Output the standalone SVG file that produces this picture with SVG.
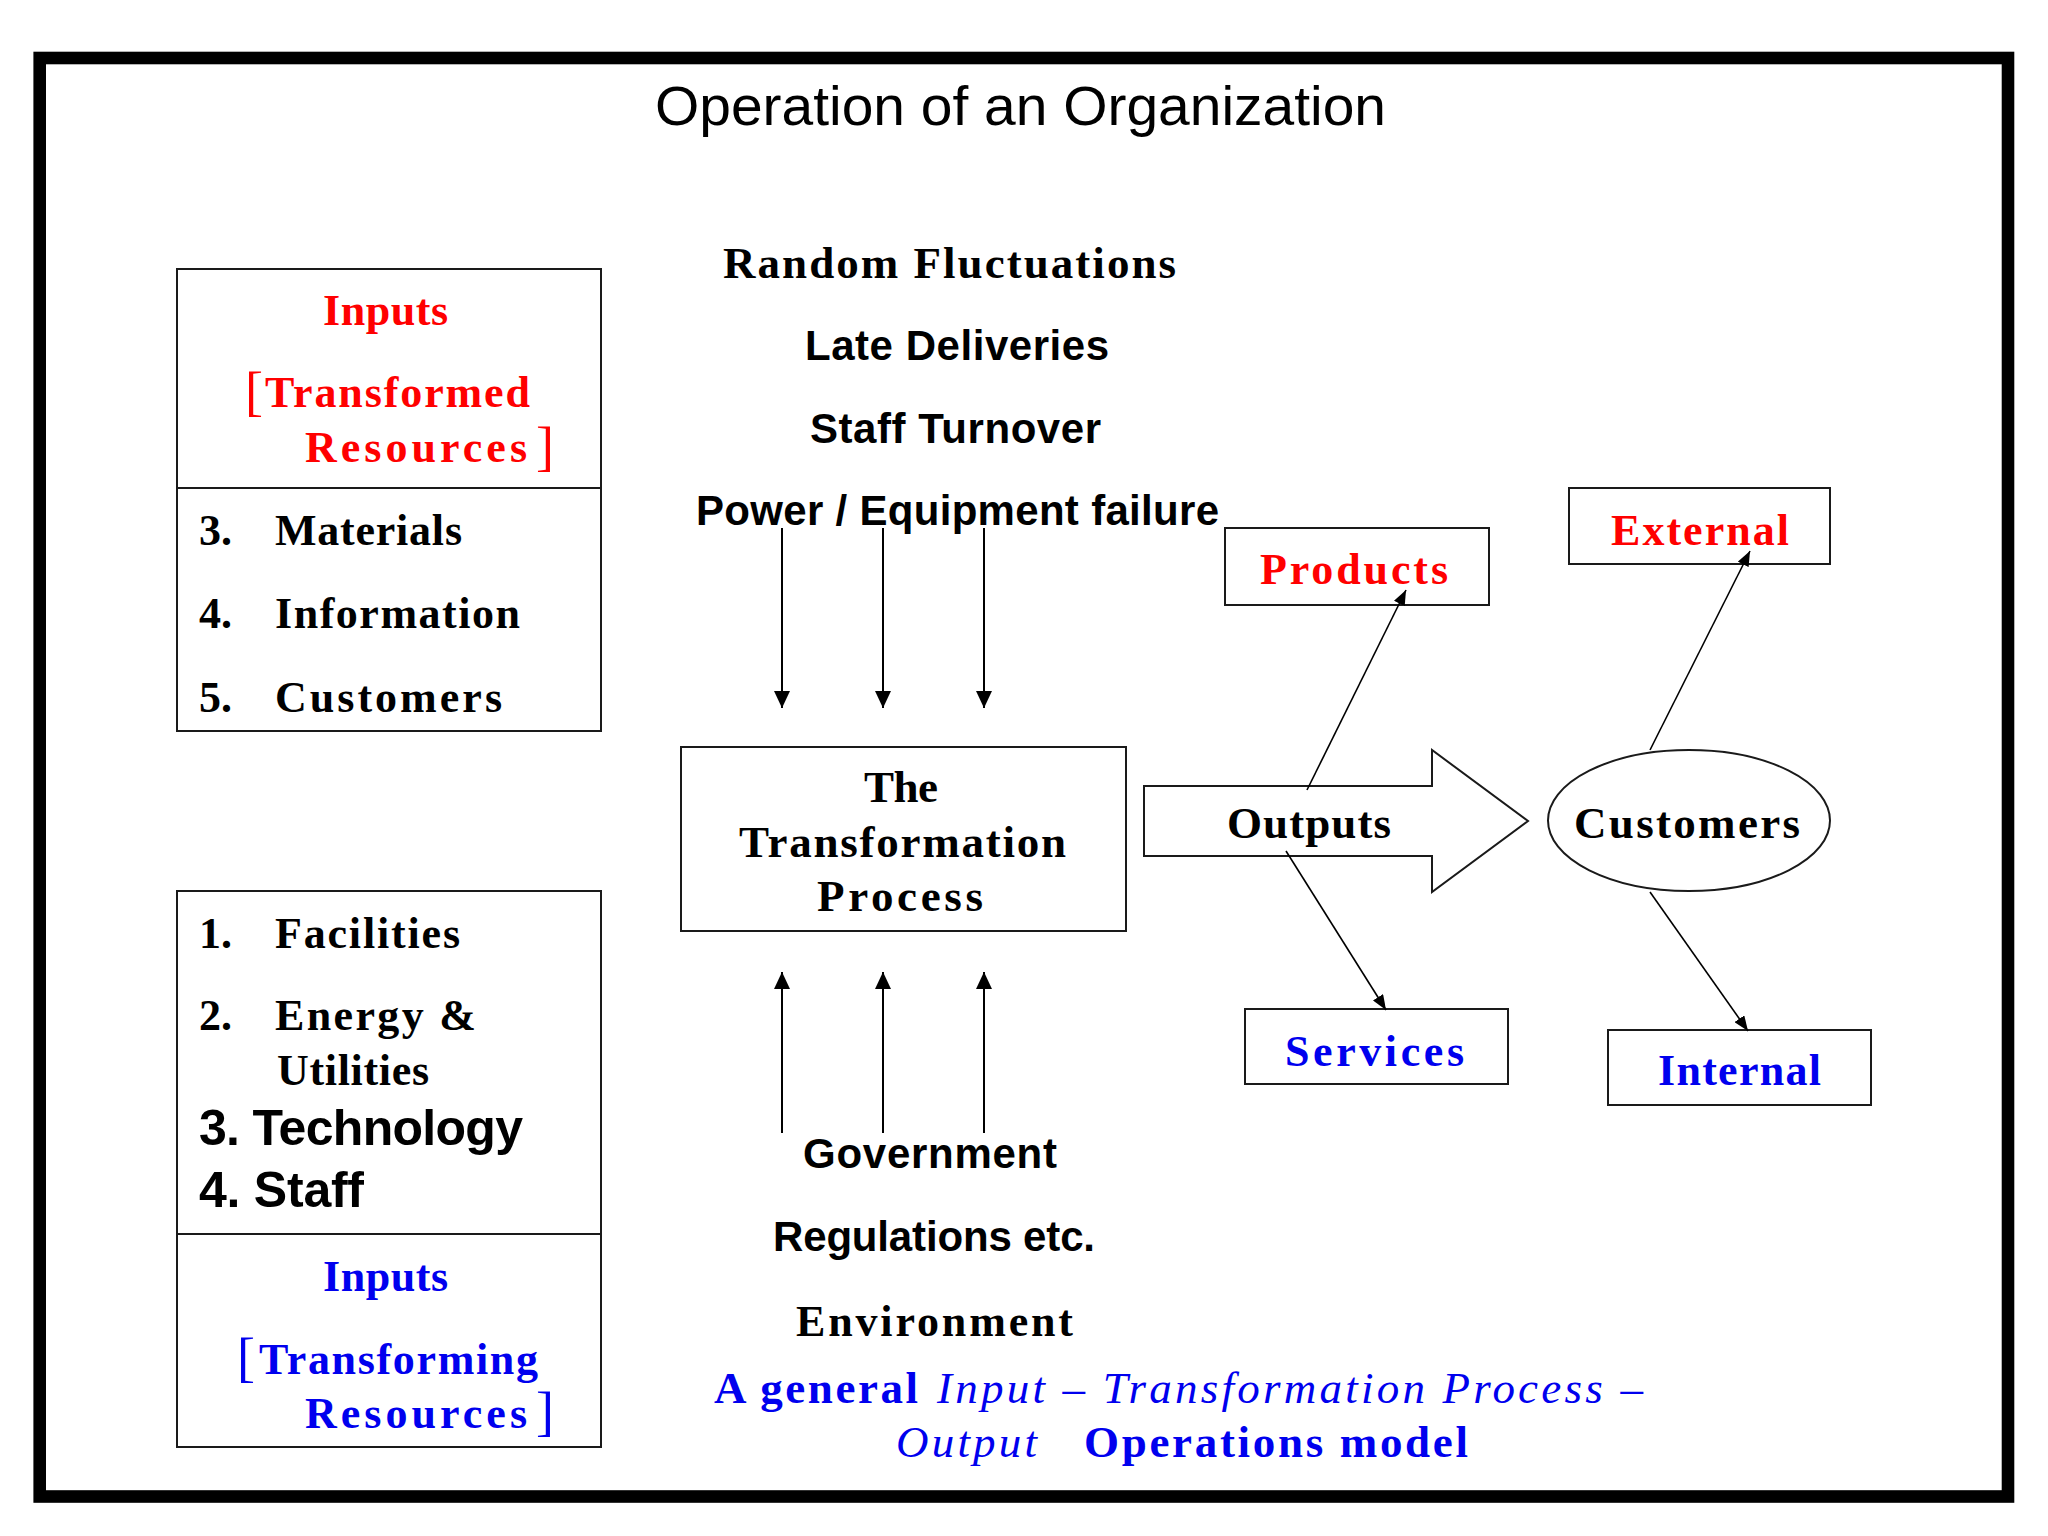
<svg xmlns="http://www.w3.org/2000/svg" width="2048" height="1536" viewBox="0 0 2048 1536">
<defs>
<style>
.sb{font-family:"Liberation Serif","Times New Roman",serif;font-weight:bold;font-size:44px;fill:#000}
.si{font-family:"Liberation Serif","Times New Roman",serif;font-style:italic;font-size:45px;fill:#0000ee}
.br{font-family:"Liberation Serif","Times New Roman",serif;font-weight:normal;font-size:54px}
.sa{font-family:"Liberation Sans",Arial,sans-serif;font-weight:bold;font-size:42px;fill:#000}
.ttl{font-family:"Liberation Sans",Arial,sans-serif;font-weight:normal;font-size:56px;fill:#000}
.red{fill:#ff0000}
.blue{fill:#0000ee}
.box{fill:#fff;stroke:#1a1a1a;stroke-width:2}
.conn{stroke:#000;stroke-width:2;fill:none}
.thin{stroke:#000;stroke-width:1.6;fill:none}
</style>
<marker id="ah" viewBox="0 0 17 16" refX="17" refY="8" markerWidth="17" markerHeight="16" markerUnits="userSpaceOnUse" orient="auto">
<path d="M0,0 L17,8 L0,16 z" fill="#000"/>
</marker>
<marker id="ahs" viewBox="0 0 15 12" refX="15" refY="6" markerWidth="15" markerHeight="12" markerUnits="userSpaceOnUse" orient="auto">
<path d="M0,0 L15,6 L0,12 z" fill="#000"/>
</marker>
</defs>
<rect x="0" y="0" width="2048" height="1536" fill="#fff"/>
<rect id="frame" x="39.7" y="58" width="1968.3" height="1438.5" fill="none" stroke="#000" stroke-width="12.6"/>

<g id="title">
<text class="ttl" x="655" y="125" textLength="731" lengthAdjust="spacingAndGlyphs">Operation of an Organization</text>
</g>

<g id="inputs-transformed">
<rect class="box" x="177" y="269" width="424" height="462"/>
<line x1="177" y1="488" x2="601" y2="488" stroke="#1a1a1a" stroke-width="2"/>
<text class="sb red" x="323" y="325" textLength="125" lengthAdjust="spacing">Inputs</text>
<text class="br red" x="245" y="410">[</text>
<text class="sb red" x="265" y="407" textLength="265" lengthAdjust="spacing">Transformed</text>
<text class="sb red" x="305" y="462" textLength="222" lengthAdjust="spacing">Resources</text>
<text class="br red" x="536" y="465">]</text>
<text class="sb" x="199" y="545">3.</text>
<text class="sb" x="275" y="545" textLength="187" lengthAdjust="spacing">Materials</text>
<text class="sb" x="199" y="628">4.</text>
<text class="sb" x="275" y="628" textLength="245" lengthAdjust="spacing">Information</text>
<text class="sb" x="199" y="712">5.</text>
<text class="sb" x="275" y="712" textLength="227" lengthAdjust="spacing">Customers</text>
</g>

<g id="inputs-transforming">
<rect class="box" x="177" y="891" width="424" height="556"/>
<line x1="177" y1="1234" x2="601" y2="1234" stroke="#1a1a1a" stroke-width="2"/>
<text class="sb" x="199" y="948">1.</text>
<text class="sb" x="275" y="948" textLength="185" lengthAdjust="spacing">Facilities</text>
<text class="sb" x="199" y="1030">2.</text>
<text class="sb" x="275" y="1030" textLength="201" lengthAdjust="spacing">Energy &amp;</text>
<text class="sb" x="277" y="1085" textLength="152" lengthAdjust="spacing">Utilities</text>
<text class="sa" style="font-size:50px" x="199" y="1145" textLength="324" lengthAdjust="spacing">3. Technology</text>
<text class="sa" style="font-size:50px" x="199" y="1207" textLength="165" lengthAdjust="spacing">4. Staff</text>
<text class="sb blue" x="323" y="1291" textLength="125" lengthAdjust="spacing">Inputs</text>
<text class="br blue" x="237" y="1376">[</text>
<text class="sb blue" x="259" y="1374" textLength="279" lengthAdjust="spacing">Transforming</text>
<text class="sb blue" x="305" y="1428" textLength="222" lengthAdjust="spacing">Resources</text>
<text class="br blue" x="536" y="1430">]</text>
</g>

<g id="disturbances">
<text class="sb" style="font-size:45px" x="723" y="278" textLength="453" lengthAdjust="spacing">Random Fluctuations</text>
<text class="sa" x="805" y="360" textLength="304" lengthAdjust="spacing">Late Deliveries</text>
<text class="sa" x="810" y="443" textLength="291" lengthAdjust="spacing">Staff Turnover</text>
<text class="sa" x="696" y="525" textLength="523" lengthAdjust="spacing">Power / Equipment failure</text>
</g>

<g id="transformation">
<rect class="box" x="681" y="747" width="445" height="184"/>
<text class="sb" style="font-size:45px" x="864" y="802" textLength="74" lengthAdjust="spacing">The</text>
<text class="sb" style="font-size:45px" x="739" y="857" textLength="327" lengthAdjust="spacing">Transformation</text>
<text class="sb" style="font-size:45px" x="817" y="911" textLength="166" lengthAdjust="spacing">Process</text>
</g>

<g id="constraints">
<text class="sa" x="803" y="1168" textLength="254" lengthAdjust="spacing">Government</text>
<text class="sa" x="773" y="1251" textLength="322" lengthAdjust="spacing">Regulations etc.</text>
<text class="sb" x="796" y="1336" textLength="277" lengthAdjust="spacing">Environment</text>
</g>

<g id="outputs">
<polygon points="1144,786 1432,786 1432,750 1528,821 1432,892 1432,856 1144,856" fill="#fff" stroke="#1a1a1a" stroke-width="2"/>
<text class="sb" style="font-size:45px" x="1227" y="838" textLength="164" lengthAdjust="spacing">Outputs</text>
</g>

<g id="products">
<rect class="box" x="1225" y="528" width="264" height="77"/>
<text class="sb red" x="1260" y="584" textLength="188" lengthAdjust="spacing">Products</text>
</g>

<g id="services">
<rect class="box" x="1245" y="1009" width="263" height="75"/>
<text class="sb blue" x="1285" y="1066" textLength="179" lengthAdjust="spacing">Services</text>
</g>

<g id="customers">
<ellipse cx="1689" cy="820.5" rx="141" ry="70.5" fill="#fff" stroke="#1a1a1a" stroke-width="2"/>
<text class="sb" style="font-size:45px" x="1574" y="838" textLength="226" lengthAdjust="spacing">Customers</text>
</g>

<g id="external">
<rect class="box" x="1569" y="488" width="261" height="76"/>
<text class="sb red" x="1611" y="545" textLength="178" lengthAdjust="spacing">External</text>
</g>

<g id="internal">
<rect class="box" x="1608" y="1030" width="263" height="75"/>
<text class="sb blue" x="1658" y="1085" textLength="163" lengthAdjust="spacing">Internal</text>
</g>

<g id="connectors">
<line class="conn" x1="782" y1="528" x2="782" y2="708" marker-end="url(#ah)"/>
<line class="conn" x1="883" y1="528" x2="883" y2="708" marker-end="url(#ah)"/>
<line class="conn" x1="984" y1="528" x2="984" y2="708" marker-end="url(#ah)"/>
<line class="conn" x1="782" y1="1133" x2="782" y2="972" marker-end="url(#ah)"/>
<line class="conn" x1="883" y1="1133" x2="883" y2="972" marker-end="url(#ah)"/>
<line class="conn" x1="984" y1="1133" x2="984" y2="972" marker-end="url(#ah)"/>
<line class="thin" x1="1307" y1="790" x2="1406" y2="590" marker-end="url(#ahs)"/>
<line class="thin" x1="1286" y1="851" x2="1386" y2="1010" marker-end="url(#ahs)"/>
<line class="thin" x1="1650" y1="750" x2="1750" y2="551" marker-end="url(#ahs)"/>
<line class="thin" x1="1650" y1="892" x2="1748" y2="1031" marker-end="url(#ahs)"/>
</g>

<g id="caption">
<text class="sb blue" style="font-size:45px" x="714" y="1403" textLength="204" lengthAdjust="spacing">A general</text>
<text class="si" x="937" y="1403" textLength="706" lengthAdjust="spacing">Input – Transformation Process –</text>
<text class="si" x="896" y="1457" textLength="141" lengthAdjust="spacing">Output</text>
<text class="sb blue" style="font-size:45px" x="1084" y="1457" textLength="384" lengthAdjust="spacing">Operations model</text>
</g>
</svg>
